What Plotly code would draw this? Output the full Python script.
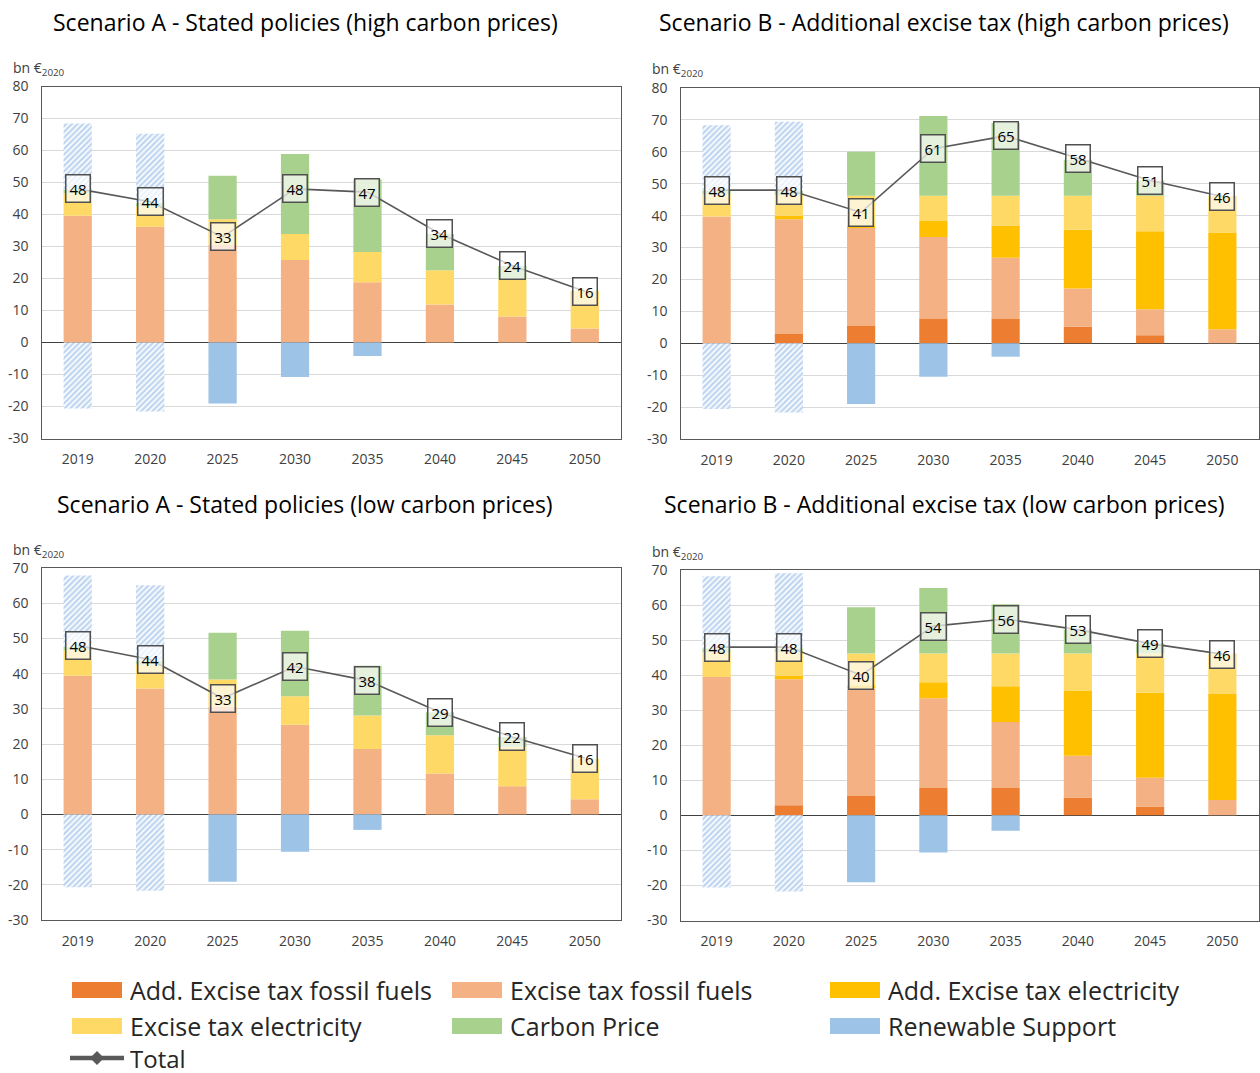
import plotly.graph_objects as go
from plotly.subplots import make_subplots

W, H = 1260, 1073
FONT = "Open Sans"

years = ["2019", "2020", "2025", "2030", "2035", "2040", "2045", "2050"]

# ---- Scenario A - Stated policies (high carbon prices) ----
a_hi_add_fossil = [0, 0, 0, 0, 0, 0, 0, 0]
a_hi_fossil = [39.6, 36.2, 30.5, 25.8, 18.8, 11.9, 8.1, 4.4]
a_hi_add_elec = [0, 0, 0, 0, 0, 0, 0, 0]
a_hi_elec = [7.0, 6.3, 8.0, 8.1, 9.5, 10.7, 11.7, 11.8]
a_hi_carbon = [1.2, 1.2, 13.6, 25.0, 22.7, 11.3, 4.1, 0]
a_hi_renew = [0, 0, -19.1, -10.8, -4.2, 0, 0, 0]
a_hi_hist_pos = [20.6, 21.5, 0, 0, 0, 0, 0, 0]
a_hi_hist_neg = [-20.6, -21.6, 0, 0, 0, 0, 0, 0]
a_hi_total = [48, 44, 33, 48, 47, 34, 24, 16]

# ---- Scenario B - Additional excise tax (high carbon prices) ----
b_hi_add_fossil = [0, 2.9, 5.6, 7.8, 7.8, 5.2, 2.5, 0]
b_hi_fossil = [39.7, 36.0, 30.5, 25.5, 19.0, 12.0, 8.2, 4.4]
b_hi_add_elec = [0, 1.1, 0.9, 5.0, 10.1, 18.4, 24.4, 30.3]
b_hi_elec = [6.9, 6.5, 9.2, 7.9, 9.3, 10.6, 11.1, 11.5]
b_hi_carbon = [1.2, 1.2, 13.8, 25.0, 22.8, 11.3, 4.8, 0]
b_hi_renew = [0, 0, -19.0, -10.5, -4.2, 0, 0, 0]
b_hi_hist_pos = [20.5, 21.7, 0, 0, 0, 0, 0, 0]
b_hi_hist_neg = [-20.6, -21.7, 0, 0, 0, 0, 0, 0]
b_hi_total = [48, 48, 41, 61, 65, 58, 51, 46]

# ---- Scenario A - Stated policies (low carbon prices) ----
a_lo_add_fossil = [0, 0, 0, 0, 0, 0, 0, 0]
a_lo_fossil = [39.4, 35.8, 30.6, 25.5, 18.6, 11.6, 8.0, 4.3]
a_lo_add_elec = [0, 0, 0, 0, 0, 0, 0, 0]
a_lo_elec = [7.2, 6.7, 7.7, 8.1, 9.5, 10.9, 11.2, 11.5]
a_lo_carbon = [1.0, 1.2, 13.3, 18.6, 14.1, 6.5, 2.8, 0]
a_lo_renew = [0, 0, -19.1, -10.6, -4.4, 0, 0, 0]
a_lo_hist_pos = [20.3, 21.4, 0, 0, 0, 0, 0, 0]
a_lo_hist_neg = [-20.7, -21.7, 0, 0, 0, 0, 0, 0]
a_lo_total = [48, 44, 33, 42, 38, 29, 22, 16]

# ---- Scenario B - Additional excise tax (low carbon prices) ----
b_lo_add_fossil = [0, 2.9, 5.5, 7.8, 7.8, 5.1, 2.5, 0]
b_lo_fossil = [39.5, 35.9, 30.7, 25.6, 18.8, 11.9, 8.2, 4.4]
b_lo_add_elec = [0, 1.0, 0.9, 4.6, 10.2, 18.6, 24.3, 30.2]
b_lo_elec = [7.0, 6.7, 9.1, 8.2, 9.4, 10.6, 11.2, 11.6]
b_lo_carbon = [1.2, 1.2, 13.2, 18.7, 14.0, 6.8, 2.9, 0]
b_lo_renew = [0, 0, -19.1, -10.6, -4.4, 0, 0, 0]
b_lo_hist_pos = [20.5, 21.4, 0, 0, 0, 0, 0, 0]
b_lo_hist_neg = [-20.6, -21.7, 0, 0, 0, 0, 0, 0]
b_lo_total = [48, 48, 40, 54, 56, 53, 49, 46]

ticks_hi = [-30, -20, -10, 0, 10, 20, 30, 40, 50, 60, 70, 80]
ticks_lo = [-30, -20, -10, 0, 10, 20, 30, 40, 50, 60, 70]

series_names = ["Add. Excise tax fossil fuels", "Excise tax fossil fuels",
                "Add. Excise tax electricity", "Excise tax electricity",
                "Carbon Price", "Renewable Support"]
colors = ["#ED7D31", "#F4B183", "#FFC000", "#FFD966", "#A9D18E", "#9DC3E6"]
HATCH_COLOR = "#80ACE0"
LINE_COLOR = "#595959"

panels = [
    dict(row=1, col=1,
         title="Scenario A - Stated policies (high carbon prices)",
         stacks=[a_hi_add_fossil, a_hi_fossil, a_hi_add_elec, a_hi_elec, a_hi_carbon, a_hi_renew],
         hist=(a_hi_hist_pos, a_hi_hist_neg), total=a_hi_total, ticks=ticks_hi),
    dict(row=1, col=2,
         title="Scenario B - Additional excise tax (high carbon prices)",
         stacks=[b_hi_add_fossil, b_hi_fossil, b_hi_add_elec, b_hi_elec, b_hi_carbon, b_hi_renew],
         hist=(b_hi_hist_pos, b_hi_hist_neg), total=b_hi_total, ticks=ticks_hi),
    dict(row=2, col=1,
         title="Scenario A - Stated policies (low carbon prices)",
         stacks=[a_lo_add_fossil, a_lo_fossil, a_lo_add_elec, a_lo_elec, a_lo_carbon, a_lo_renew],
         hist=(a_lo_hist_pos, a_lo_hist_neg), total=a_lo_total, ticks=ticks_lo),
    dict(row=2, col=2,
         title="Scenario B - Additional excise tax (low carbon prices)",
         stacks=[b_lo_add_fossil, b_lo_fossil, b_lo_add_elec, b_lo_elec, b_lo_carbon, b_lo_renew],
         hist=(b_lo_hist_pos, b_lo_hist_neg), total=b_lo_total, ticks=ticks_lo),
]

# plot-area boxes in pixels: (left, top, right, bottom)
boxes = {
    (1, 1): (41.5, 86.5, 621, 438.5),
    (1, 2): (680.5, 88, 1258.5, 439),
    (2, 1): (41.5, 568, 621, 920),
    (2, 2): (680.5, 570, 1258.5, 920.5),
}
title_centers = {(1, 1): (305, 22), (1, 2): (944, 22), (2, 1): (305, 504), (2, 2): (944, 504)}


def px(x):
    return x / W


def py(y):
    return 1 - y / H


fig = make_subplots(rows=2, cols=2)

annotations = []
for i, p in enumerate(panels):
    r, c = p["row"], p["col"]
    for name, vals, col in zip(series_names, p["stacks"], colors):
        fig.add_trace(go.Bar(x=years, y=vals, name=name, marker_color=col,
                             marker_line_width=0, showlegend=False), row=r, col=c)
    for vals in p["hist"]:
        fig.add_trace(go.Bar(x=years, y=vals, name="Renewable Support (historic)",
                             marker=dict(color="white", line_width=0,
                                         pattern=dict(shape="/", fgcolor=HATCH_COLOR,
                                                      bgcolor="white", size=4, solidity=0.6)),
                             showlegend=False), row=r, col=c)
    fig.add_trace(go.Scatter(x=years, y=p["total"], mode="lines", name="Total",
                             line=dict(color=LINE_COLOR, width=1.6), showlegend=False),
                  row=r, col=c)

    axn = "" if i == 0 else str(i + 1)
    # value boxes on the total line (x given as category index)
    for k, t in enumerate(p["total"]):
        annotations.append(dict(x=k, y=t, xref="x" + axn, yref="y" + axn, text=str(t),
                                showarrow=False, font=dict(family=FONT, size=15, color="#000000"),
                                bgcolor="rgba(255,255,255,0.7)", bordercolor="#505050",
                                borderwidth=1.5, borderpad=3))

    l, t, rr, b = boxes[(r, c)]
    fig.update_xaxes(domain=[px(l), px(rr)], type="category", range=[-0.5, 7.5],
                     automargin=False, showline=True, mirror=True,
                     linecolor=LINE_COLOR, linewidth=1.3, showgrid=False, ticks="",
                     ticklabelstandoff=8, tickfont=dict(family=FONT, size=14, color="#404040"),
                     row=r, col=c)
    fig.update_yaxes(domain=[py(b), py(t)], range=[p["ticks"][0], p["ticks"][-1]],
                     tickvals=p["ticks"], ticktext=[str(v) for v in p["ticks"]], automargin=False,
                     showline=True, mirror=True, linecolor=LINE_COLOR, linewidth=1.3,
                     showgrid=True, gridcolor="#D9D9D9", gridwidth=1,
                     zeroline=True, zerolinecolor="#404040", zerolinewidth=1.2,
                     ticks="", ticklabelstandoff=9,
                     tickfont=dict(family=FONT, size=14, color="#404040"), row=r, col=c)

    # panel title and unit label
    tx, ty = title_centers[(r, c)]
    annotations.append(dict(x=px(tx), y=py(ty), xref="paper", yref="paper", text=p["title"],
                            showarrow=False, xanchor="center", yanchor="middle",
                            font=dict(family=FONT, size=23, color="#000000")))
    annotations.append(dict(x=px(11 if c == 1 else 650), y=py(t - 18), xref="paper", yref="paper",
                            text="bn €<sub>2020</sub>", showarrow=False, xanchor="left",
                            yanchor="middle", font=dict(family=FONT, size=14, color="#404040")))

# legend drawn below the panels
shapes = []
legend_items = [
    (series_names[0], colors[0], 72, 990), (series_names[1], colors[1], 452, 990),
    (series_names[2], colors[2], 830, 990),
    (series_names[3], colors[3], 72, 1026), (series_names[4], colors[4], 452, 1026),
    (series_names[5], colors[5], 830, 1026),
]
for name, col, x0, yc in legend_items:
    shapes.append(dict(type="rect", xref="paper", yref="paper", x0=px(x0), x1=px(x0 + 50),
                       y0=py(yc + 8), y1=py(yc - 8), fillcolor=col, line_width=0))
    annotations.append(dict(x=px(x0 + 56), y=py(yc), xref="paper", yref="paper", text=name,
                            showarrow=False, xanchor="left", yanchor="middle", height=32,
                            font=dict(family=FONT, size=25, color="#262626")))
shapes.append(dict(type="line", xref="paper", yref="paper", x0=px(70), x1=px(124),
                   y0=py(1058), y1=py(1058), line=dict(color=LINE_COLOR, width=4.5)))
shapes.append(dict(type="path", xref="paper", yref="paper",
                   path=f"M {px(97)},{py(1051)} L {px(104)},{py(1058)} L {px(97)},{py(1065)} L {px(90)},{py(1058)} Z",
                   fillcolor=LINE_COLOR, line_width=0))
annotations.append(dict(x=px(128), y=py(1058), xref="paper", yref="paper", text="Total",
                        showarrow=False, xanchor="left", yanchor="middle", height=28,
                        font=dict(family=FONT, size=24, color="#262626")))

fig.update_layout(width=W, height=H, margin=dict(l=0, r=0, t=0, b=0),
                  barmode="relative", bargap=0.61, plot_bgcolor="white", paper_bgcolor="white",
                  font=dict(family=FONT), annotations=annotations, shapes=shapes,
                  showlegend=False)

fig.write_html("out.html")
